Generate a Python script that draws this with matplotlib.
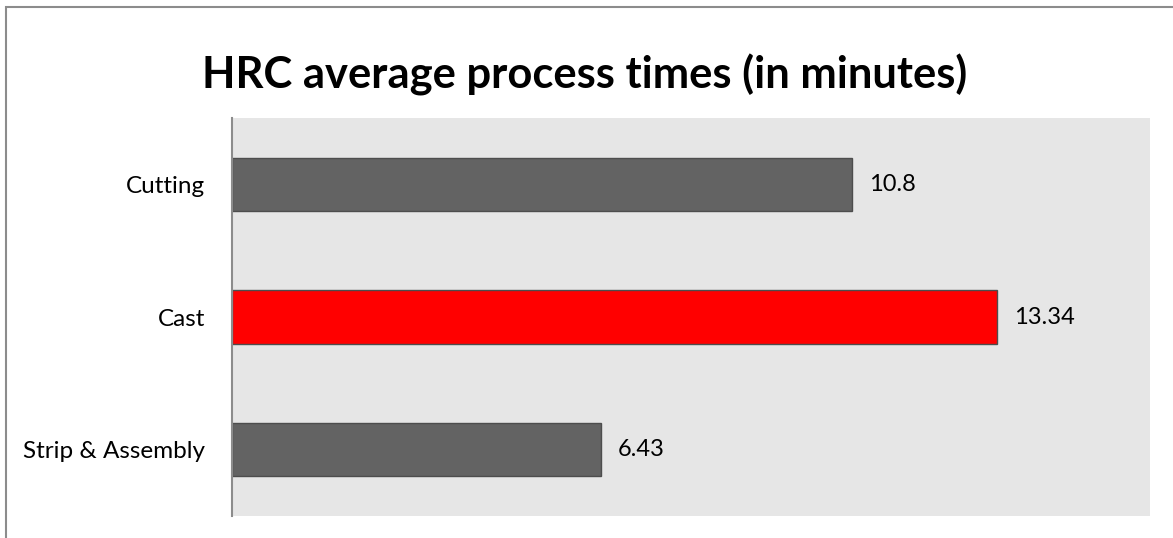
import matplotlib
matplotlib.use("Agg")
import matplotlib.pyplot as plt
from matplotlib.patches import Rectangle

plt.rcParams['font.family'] = ['Lato', 'DejaVu Sans']

categories = ["Cutting", "Cast", "Strip & Assembly"]
times = [10.8, 13.34, 6.43]
labels = ["10.8", "13.34", "6.43"]
colors = ["#636363", "#ff0000", "#636363"]

W, H = 1173, 538
fig = plt.figure(figsize=(W / 100, H / 100), dpi=100)

# outer frame (cut off on the right and bottom)
fig.patches.append(Rectangle((6 / W, -0.1), 1.2, (H - 7) / H + 0.1,
                             transform=fig.transFigure, fill=False,
                             edgecolor="#8c8c8c", linewidth=1.5))

ax = fig.add_axes([232 / W, (H - 516) / H, (1150 - 232) / W, (516 - 118) / H])
ax.set_facecolor("#e6e6e6")

ypos = list(range(len(categories)))
ax.barh(ypos, times, height=0.4, color=colors, edgecolor="#4d4d4d", linewidth=1.0)
ax.set_xlim(0, 16)
ax.set_ylim(len(categories) - 0.5, -0.5)
ax.set_yticks(ypos)
ax.set_yticklabels(categories, fontsize=17.5)
ax.tick_params(axis="y", length=0, pad=19.5)
ax.set_xticks([])

for y, v, t in zip(ypos, times, labels):
    ax.annotate(t, (v, y), xytext=(17, 0), textcoords="offset pixels",
                va="center", ha="left", fontsize=17, color="#000000")

for s in ["top", "right", "bottom"]:
    ax.spines[s].set_visible(False)
ax.spines["left"].set_color("#8c8c8c")
ax.spines["left"].set_linewidth(1.5)

fig.text(584.5 / W, (H - 75) / H, "HRC average process times (in minutes)",
         ha="center", va="center", fontsize=31.3, fontweight="bold", color="#000000")

fig.savefig("out.png", dpi=100)
